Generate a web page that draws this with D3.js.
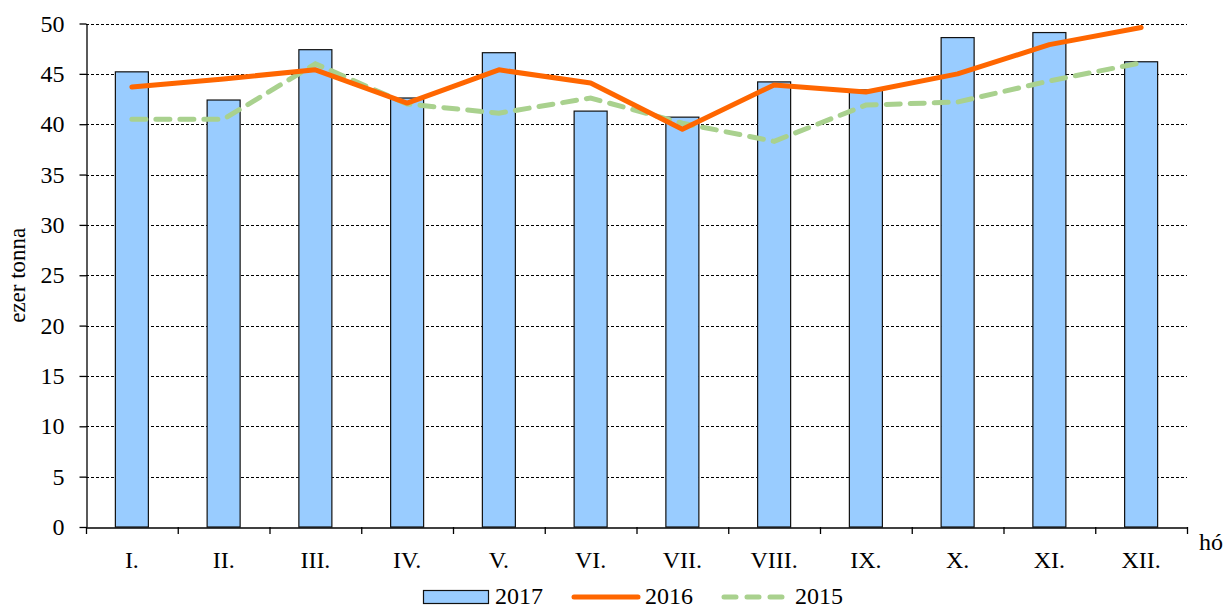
<!DOCTYPE html>
<html lang="hu">
<head>
  <meta charset="UTF-8">
  <title>ezer tonna</title>
  <script src="https://d3js.org/d3.v7.min.js"></script>
  <style>
    html, body { margin: 0; padding: 0; background: #fff; }
  </style>
</head>
<body>
  <script>
    const months = ["I.", "II.", "III.", "IV.", "V.", "VI.", "VII.", "VIII.", "IX.", "X.", "XI.", "XII."];
    const v2017 = [45.2, 42.4, 47.4, 42.6, 47.1, 41.3, 40.7, 44.2, 43.4, 48.6, 49.1, 46.2];
    const v2016 = [43.7, 44.5, 45.4, 42.1, 45.4, 44.1, 39.5, 43.9, 43.2, 45.0, 47.9, 49.6];
    const v2015 = [40.5, 40.5, 46.0, 42.0, 41.1, 42.6, 40.1, 38.3, 41.9, 42.2, 44.3, 46.1];
    const yTicks = [0, 5, 10, 15, 20, 25, 30, 35, 40, 45, 50];

    const width = 1224, height = 608;
    const plotL = 86, plotR = 1187, plotT = 23.5, plotB = 527;
    const serif = "Liberation Serif, Times New Roman, serif";

    const svg = d3.select("body").append("svg")
      .attr("width", width)
      .attr("height", height)
      .attr("font-family", serif)
      .attr("font-size", 24);

    const x = d3.scaleBand().domain(months).range([plotL, plotR]).paddingInner(0).paddingOuter(0);
    const y = d3.scaleLinear().domain([0, 50]).range([plotB, plotT]);

    // dashed gridlines
    svg.append("g")
      .selectAll("line")
      .data(yTicks.filter(d => d > 0))
      .join("line")
      .attr("x1", plotL).attr("x2", plotR)
      .attr("y1", d => Math.round(y(d)) + 0.5).attr("y2", d => Math.round(y(d)) + 0.5)
      .attr("stroke", "#000").attr("stroke-width", 1)
      .attr("stroke-dasharray", "3,2");

    // y axis
    const yAxis = svg.append("g")
      .attr("transform", `translate(${plotL + 0.5},0)`)
      .call(d3.axisLeft(y).tickValues(yTicks).tickSize(7).tickPadding(15).tickSizeOuter(0))
      .attr("font-family", serif).attr("font-size", 24);
    yAxis.select(".domain").attr("stroke", "#000").attr("stroke-width", 1.3);
    yAxis.selectAll(".tick line").attr("stroke", "#000").attr("stroke-width", 1.3);
    yAxis.selectAll("text").attr("fill", "#000");

    // bars
    const bw = 33;
    svg.append("g")
      .selectAll("rect")
      .data(v2017)
      .join("rect")
      .attr("x", (d, i) => x(months[i]) + x.bandwidth() / 2 - bw / 2)
      .attr("y", d => y(d))
      .attr("width", bw)
      .attr("height", d => y(0) - y(d))
      .attr("fill", "#99ccff")
      .attr("stroke", "#111")
      .attr("stroke-width", 1.2);

    // x axis
    const xAxis = svg.append("g")
      .attr("transform", `translate(0,${plotB + 0.5})`)
      .call(d3.axisBottom(x).tickSize(0).tickSizeOuter(0))
      .attr("font-family", serif).attr("font-size", 24);
    xAxis.select(".domain").attr("stroke", "#000").attr("stroke-width", 1.3);
    xAxis.selectAll("text").attr("dy", null).attr("y", 40).attr("fill", "#000");
    // category separators
    svg.append("g")
      .selectAll("line")
      .data(d3.range(months.length + 1))
      .join("line")
      .attr("x1", i => plotL + i * x.bandwidth() + 0.5)
      .attr("x2", i => plotL + i * x.bandwidth() + 0.5)
      .attr("y1", plotB).attr("y2", plotB + 7)
      .attr("stroke", "#000").attr("stroke-width", 1.3);

    const cx = (d, i) => x(months[i]) + x.bandwidth() / 2;

    // 2015 dashed green
    svg.append("path")
      .datum(v2015)
      .attr("fill", "none")
      .attr("stroke", "#a9d18e")
      .attr("stroke-width", 5)
      .attr("stroke-linecap", "round")
      .attr("stroke-dasharray", "14,10")
      .attr("d", d3.line().x(cx).y(d => y(d)));

    // 2016 solid orange
    svg.append("path")
      .datum(v2016)
      .attr("fill", "none")
      .attr("stroke", "#ff6600")
      .attr("stroke-width", 5)
      .attr("stroke-linecap", "round")
      .attr("stroke-linejoin", "round")
      .attr("d", d3.line().x(cx).y(d => y(d)));

    // axis titles
    svg.append("text")
      .attr("transform", `translate(25,${(plotT + plotB) / 2}) rotate(-90)`)
      .attr("text-anchor", "middle")
      .attr("font-size", 23)
      .text("ezer tonna");
    svg.append("text")
      .attr("x", 1199).attr("y", 550)
      .text("hó");

    // legend
    const lg = svg.append("g").attr("transform", "translate(0,597)");
    lg.append("rect").attr("x", 423.5).attr("y", -6.5).attr("width", 65).attr("height", 13)
      .attr("fill", "#99ccff").attr("stroke", "#111").attr("stroke-width", 1.2);
    lg.append("text").attr("x", 495).attr("y", 7).text("2017");
    lg.append("line").attr("x1", 574).attr("x2", 638).attr("y1", 0).attr("y2", 0)
      .attr("stroke", "#ff6600").attr("stroke-width", 5).attr("stroke-linecap", "round");
    lg.append("text").attr("x", 645).attr("y", 7).text("2016");
    lg.append("line").attr("x1", 724).attr("x2", 784).attr("y1", 0).attr("y2", 0)
      .attr("stroke", "#a9d18e").attr("stroke-width", 5).attr("stroke-linecap", "round")
      .attr("stroke-dasharray", "12,11");
    lg.append("text").attr("x", 795).attr("y", 7).text("2015");
  </script>
</body>
</html>
